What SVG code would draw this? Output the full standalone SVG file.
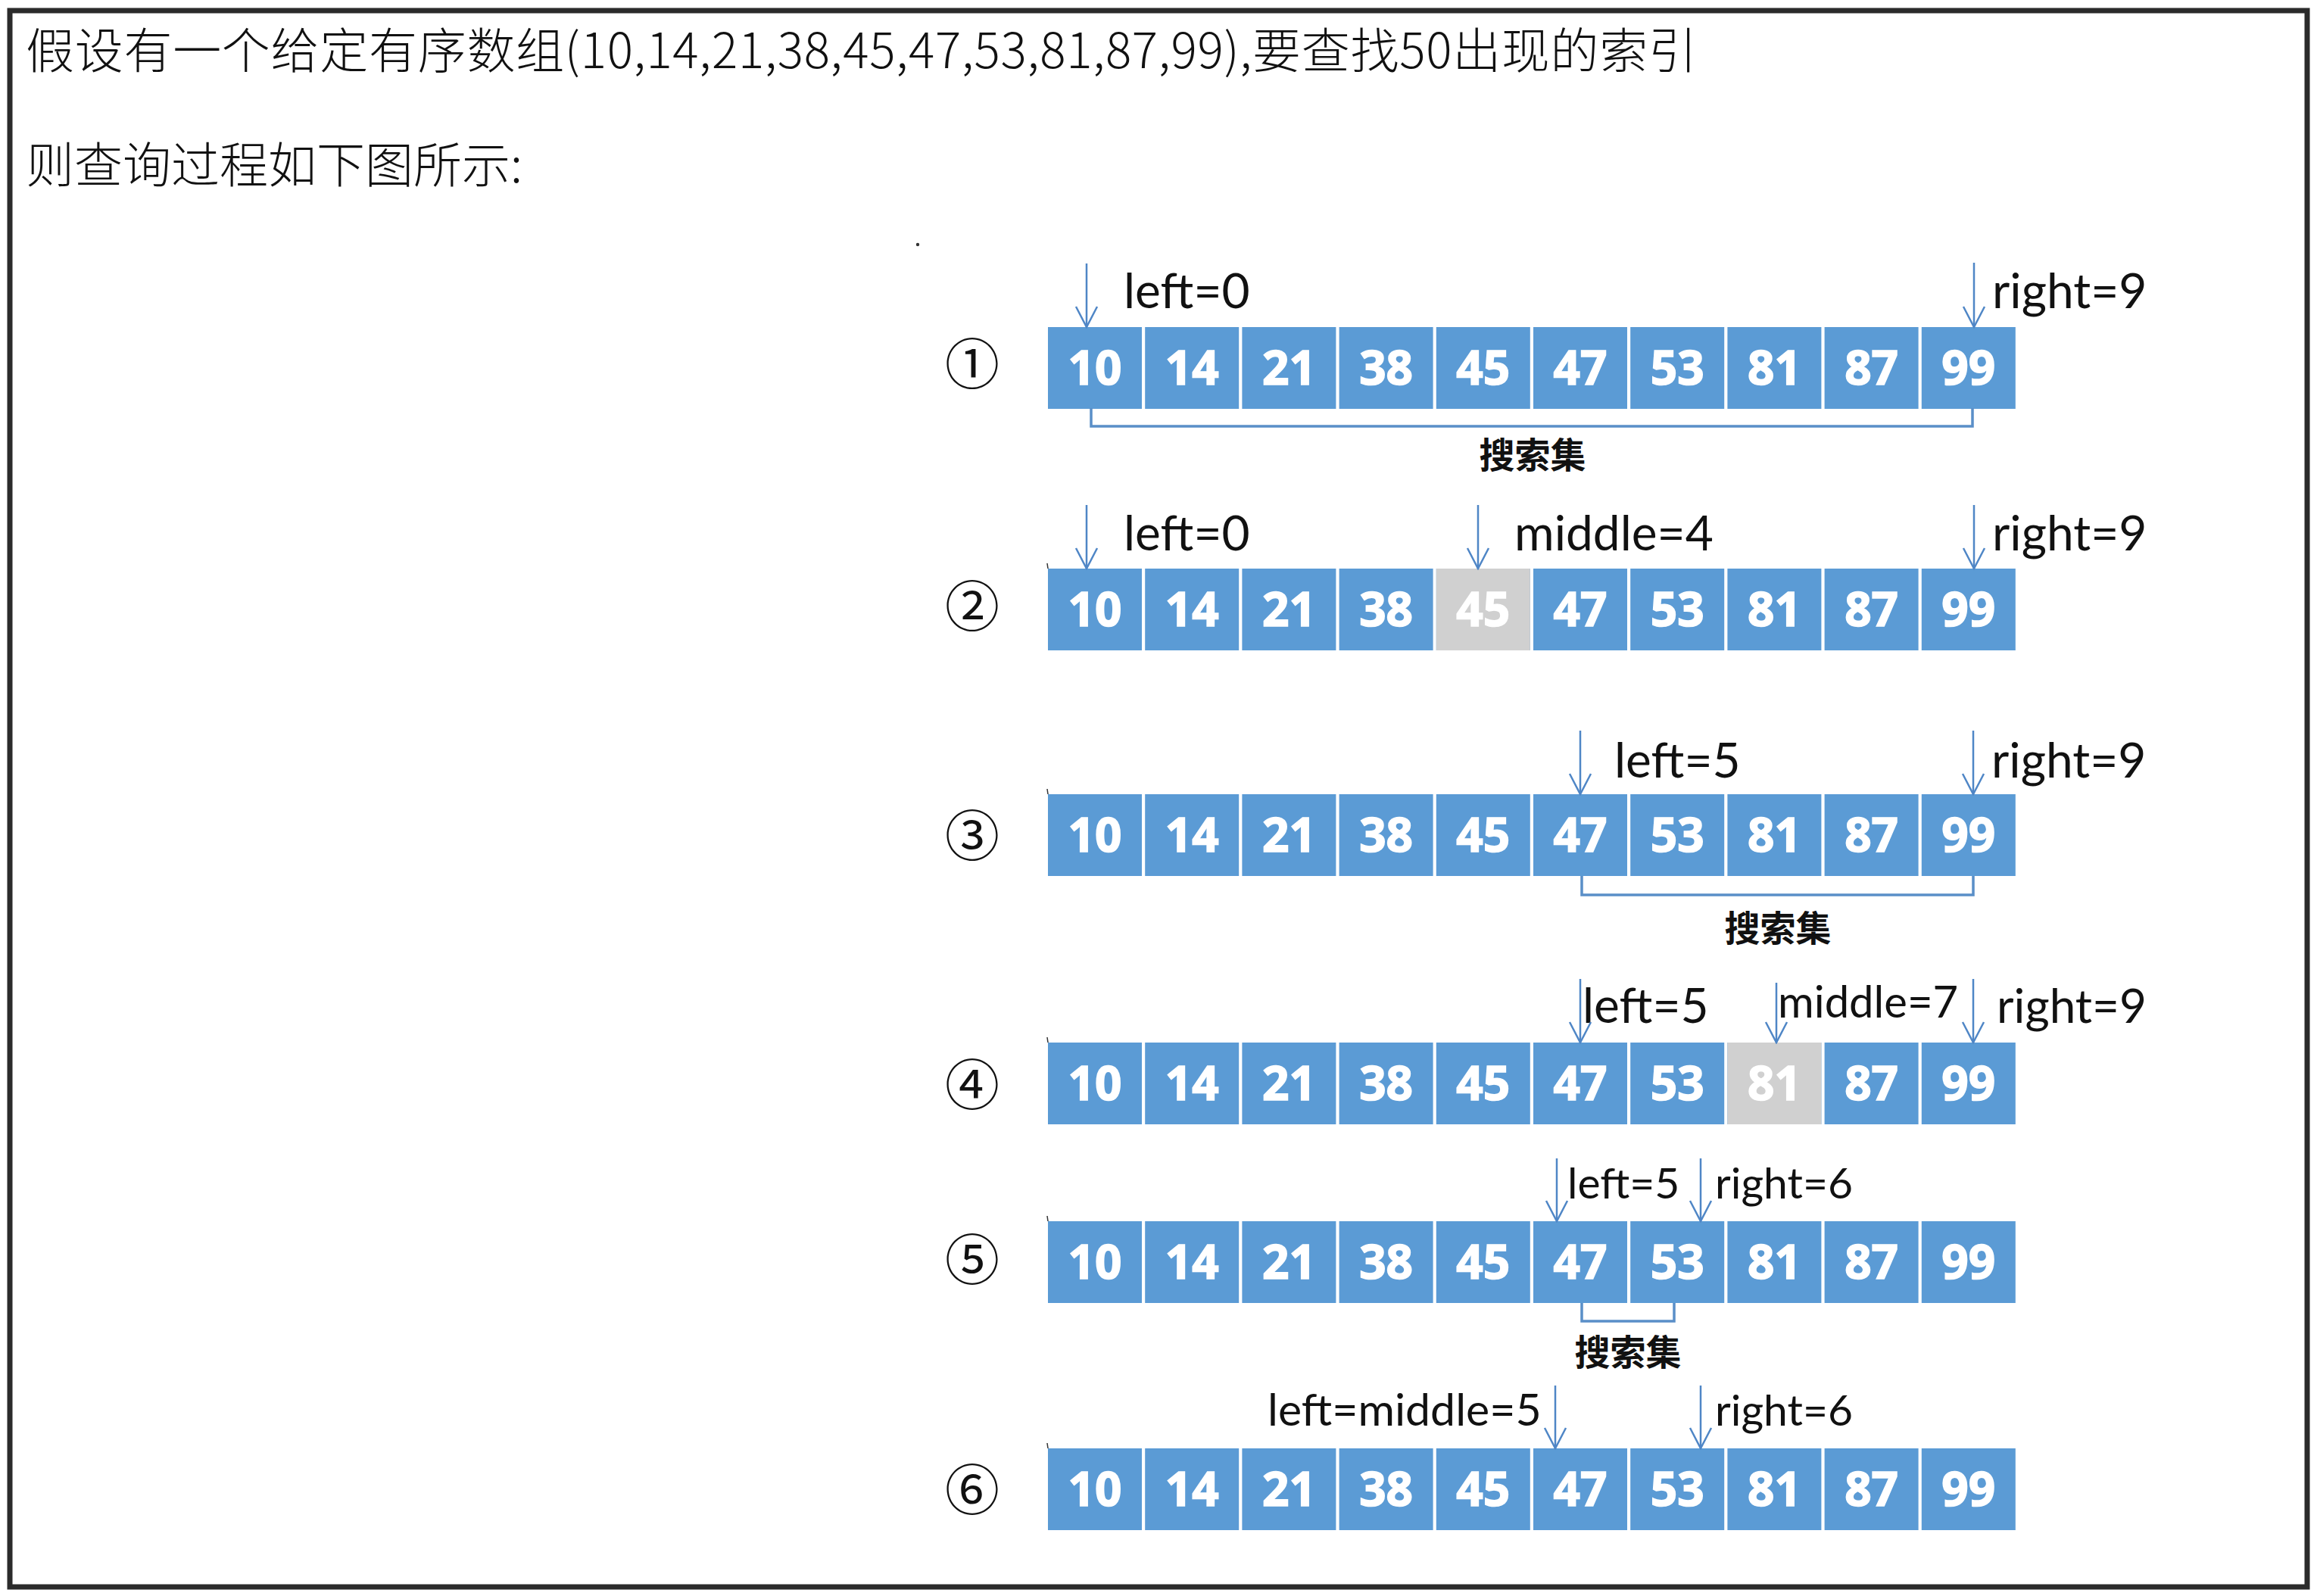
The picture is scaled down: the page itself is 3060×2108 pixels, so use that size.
<svg xmlns="http://www.w3.org/2000/svg" width="3060" height="2108" viewBox="0 0 3060 2108">
<defs>
<style>
.title{font-family:"Noto Sans CJK SC","Noto Sans",sans-serif;font-size:64px;font-weight:300;fill:#111}
.lbl{font-family:Lato,"Liberation Sans","Noto Sans",sans-serif;font-size:64px;fill:#111}
.circ{font-family:"Noto Sans CJK SC",sans-serif;font-size:72px;fill:#111;text-anchor:middle}
.set{font-family:"Noto Sans CJK SC",sans-serif;font-size:47px;font-weight:bold;fill:#111;text-anchor:middle}
.cell{fill:#5b9bd5}
.cell.hl{fill:#d0d0d0}
.num{font-family:"Noto Sans","Liberation Sans",sans-serif;font-size:62px;font-weight:bold;fill:#fff;stroke:#fff;stroke-width:1.6;text-anchor:middle}
.arrow{stroke:#4f86c6;stroke-width:2.5;fill:none;marker-end:url(#ah)}
.brace{stroke:#5a8fc8;stroke-width:3.5;fill:none}
.tick{stroke:#333;stroke-width:1.5}
</style>
<marker id="ah" viewBox="0 0 30 32" refX="28" refY="16" markerWidth="30" markerHeight="32" markerUnits="userSpaceOnUse" orient="auto">
<path d="M1,2 L28,16 L1,30" fill="none" stroke="#4f86c6" stroke-width="2.5"/>
</marker>
<g id="rowcells">
<rect class="cell" x="1384" y="0" width="124" height="108"/>
<rect class="cell" x="1512.2" y="0" width="124" height="108"/>
<rect class="cell" x="1640.4" y="0" width="124" height="108"/>
<rect class="cell" x="1768.6" y="0" width="124" height="108"/>
<rect class="cell" x="1896.8" y="0" width="124" height="108"/>
<rect class="cell" x="2025" y="0" width="124" height="108"/>
<rect class="cell" x="2153.2" y="0" width="124" height="108"/>
<rect class="cell" x="2281.4" y="0" width="124" height="108"/>
<rect class="cell" x="2409.6" y="0" width="124" height="108"/>
<rect class="cell" x="2537.8" y="0" width="124" height="108"/>
</g>
<g id="rownums">
<text class="num" x="1446" y="76">10</text>
<text class="num" x="1574.2" y="76">14</text>
<text class="num" x="1702.4" y="76">21</text>
<text class="num" x="1830.6" y="76">38</text>
<text class="num" x="1958.8" y="76">45</text>
<text class="num" x="2087" y="76">47</text>
<text class="num" x="2215.2" y="76">53</text>
<text class="num" x="2343.4" y="76">81</text>
<text class="num" x="2471.6" y="76">87</text>
<text class="num" x="2599.8" y="76">99</text>
</g>
</defs>

<rect x="13" y="14" width="3034" height="2082" fill="#fff" stroke="#2b2b2b" stroke-width="7"/>

<g id="header">
<text class="title" x="34" y="90" textLength="2207" lengthAdjust="spacing">假设有一个给定有序数组(10,14,21,38,45,47,53,81,87,99),要查找50出现的索引</text>
<text class="title" x="34" y="241">则查询过程如下图所示:</text>
<circle cx="1212" cy="323" r="2.2" fill="#333"/>
</g>

<g id="step1">
<text class="circ" x="1284" y="507">①</text>
<use href="#rowcells" y="432"/>
<use href="#rownums" y="432"/>
<text class="lbl" x="1484" y="407">left=0</text>
<text class="lbl" x="2631" y="407">right=9</text>
<text class="set" x="2024" y="618">搜索集</text>
</g>

<g id="step2">
<text class="circ" x="1284" y="827">②</text>
<use href="#rowcells" y="751"/>
<rect class="cell hl" x="1896.8" y="751" width="124" height="108"/>
<use href="#rownums" y="751"/>
<line class="tick" x1="1383" y1="744" x2="1384" y2="751"/>
<text class="lbl" x="2000" y="727">middle=4</text>
<text class="lbl" x="1484" y="727">left=0</text>
<text class="lbl" x="2631" y="727">right=9</text>
</g>

<g id="step3">
<text class="circ" x="1284" y="1130">③</text>
<use href="#rowcells" y="1049"/>
<use href="#rownums" y="1049"/>
<line class="tick" x1="1383" y1="1042" x2="1384" y2="1049"/>
<text class="lbl" x="2132" y="1027">left=5</text>
<text class="lbl" x="2630" y="1027">right=9</text>
<text class="set" x="2348" y="1243">搜索集</text>
</g>

<g id="step4">
<text class="circ" x="1284" y="1459">④</text>
<use href="#rowcells" y="1377"/>
<rect class="cell hl" x="2281.4" y="1377" width="124" height="108"/>
<use href="#rownums" y="1377"/>
<line class="tick" x1="1383" y1="1370" x2="1384" y2="1377"/>
<text class="lbl" x="2090" y="1351">left=5</text>
<text class="lbl" x="2348" y="1344" style="font-size:58px">middle=7</text>
<text class="lbl" x="2637" y="1351" style="font-size:62px">right=9</text>
</g>

<g id="step5">
<text class="circ" x="1284" y="1690">⑤</text>
<use href="#rowcells" y="1613"/>
<use href="#rownums" y="1613"/>
<line class="tick" x1="1383" y1="1606" x2="1384" y2="1613"/>
<text class="lbl" x="2070" y="1583" style="font-size:57px">left=5</text>
<text class="lbl" x="2265" y="1583" style="font-size:57px">right=6</text>
<text class="set" x="2150" y="1803">搜索集</text>
</g>

<g id="step6">
<text class="circ" x="1284" y="1994">⑥</text>
<use href="#rowcells" y="1913"/>
<use href="#rownums" y="1913"/>
<line class="tick" x1="1383" y1="1906" x2="1384" y2="1913"/>
<text class="lbl" x="1674" y="1883" style="font-size:59px">left=middle=5</text>
<text class="lbl" x="2265" y="1883" style="font-size:57px">right=6</text>
</g>

<g id="connectors">
<line class="arrow" x1="1435" y1="348" x2="1435" y2="432"/>
<line class="arrow" x1="2607" y1="347" x2="2607" y2="432"/>
<path class="brace" d="M1441,539 V563 H2605 V539"/>

<line class="arrow" x1="1435" y1="667" x2="1435" y2="751"/>
<line class="arrow" x1="1952" y1="667" x2="1952" y2="751"/>
<line class="arrow" x1="2607" y1="667" x2="2607" y2="751"/>

<line class="arrow" x1="2087" y1="965" x2="2087" y2="1049"/>
<line class="arrow" x1="2606" y1="965" x2="2606" y2="1049"/>
<path class="brace" d="M2089,1157 V1182 H2606 V1157"/>

<line class="arrow" x1="2087" y1="1293" x2="2087" y2="1377"/>
<line class="arrow" x1="2346" y1="1298" x2="2346" y2="1377"/>
<line class="arrow" x1="2606" y1="1293" x2="2606" y2="1377"/>

<line class="arrow" x1="2056" y1="1530" x2="2056" y2="1613"/>
<line class="arrow" x1="2246" y1="1530" x2="2246" y2="1613"/>
<path class="brace" d="M2089,1721 V1745 H2211 V1721"/>

<line class="arrow" x1="2054" y1="1830" x2="2054" y2="1913"/>
<line class="arrow" x1="2246" y1="1830" x2="2246" y2="1913"/>
</g>
</svg>
